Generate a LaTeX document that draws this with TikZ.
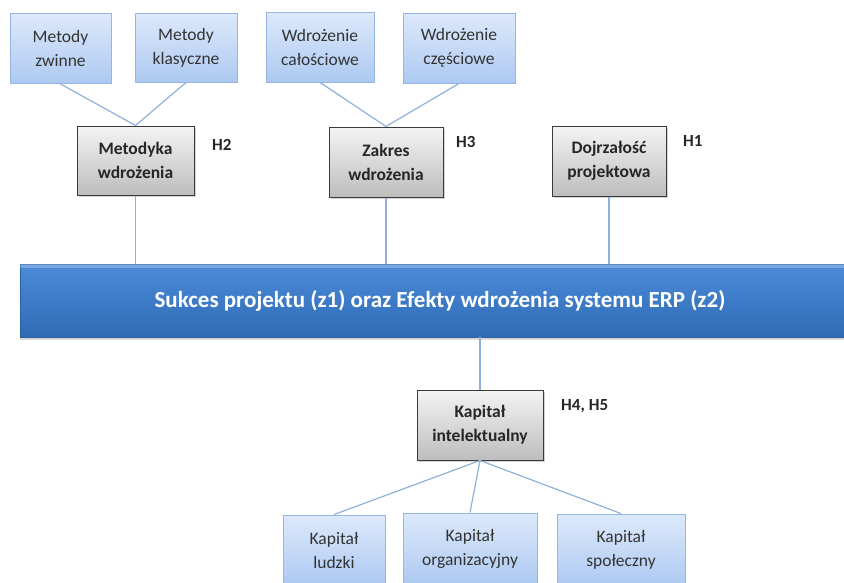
\documentclass[tikz,border=0pt]{standalone}
\usepackage{fontspec}
\setmainfont{Carlito}
\usetikzlibrary{shadows}
\definecolor{linkblue}{HTML}{8FB0D8}
\definecolor{leafedge}{HTML}{95B6E2}
\definecolor{leaftop}{HTML}{DDE9FB}
\definecolor{leafbot}{HTML}{ADC9F1}
\definecolor{hubedge}{HTML}{3A3A3A}
\definecolor{hubtop}{HTML}{F4F4F4}
\definecolor{hubbot}{HTML}{BDBDBD}
\definecolor{bantop}{HTML}{4C8BDA}
\definecolor{banbot}{HTML}{2F6BB4}
\definecolor{txtgray}{HTML}{333333}
\tikzset{
  leaf/.style={draw=leafedge, line width=0.9pt, top color=leaftop, bottom color=leafbot,
    align=center, font=\fontsize{17.5}{24}\selectfont, text=txtgray, inner sep=0pt},
  hub/.style={draw=hubedge, line width=1pt, top color=hubtop, bottom color=hubbot,
    align=center, font=\bfseries\fontsize{17.5}{24}\selectfont, text=black!85, inner sep=0pt,
    drop shadow={shadow xshift=1.5pt, shadow yshift=-1.5pt, opacity=0.35}},
  tag/.style={font=\bfseries\fontsize{17}{20}\selectfont, text=black!85, anchor=west, inner sep=0pt},
  link/.style={draw=linkblue, line width=1.2pt},
}
\begin{document}
\begin{tikzpicture}[x=1pt, y=-1pt]
\useasboundingbox (0,0) rectangle (844,582);
\clip (0,0) rectangle (844,582);

% upper leaf boxes
\node[leaf, minimum width=101pt, minimum height=70pt] (zw)  at (60.5,48.5) {Metody\\zwinne};
\node[leaf, minimum width=102pt, minimum height=69pt] (kl)  at (186,47.5) {Metody\\klasyczne};
\node[leaf, minimum width=108pt, minimum height=70pt] (wc)  at (320,47) {Wdrożenie\\całościowe};
\node[leaf, minimum width=112pt, minimum height=70pt] (wcz) at (459,48) {Wdrożenie\\częściowe};

% factor boxes
\node[hub, minimum width=117pt, minimum height=69pt] (met) at (135.5,160.5) {Metodyka\\wdrożenia};
\node[hub, minimum width=114pt, minimum height=70pt] (zak) at (386,162) {Zakres\\wdrożenia};
\node[hub, minimum width=114pt, minimum height=70pt] (doj) at (609,161) {Dojrzałość\\projektowa};

\node[tag] (h2) at (212,145) {H2};
\node[tag] (h3) at (456,142) {H3};
\node[tag] (h1) at (683,141) {H1};

% central banner
\node[draw=banbot!90!black, line width=0.6pt, top color=bantop, bottom color=banbot,
      minimum width=840pt, minimum height=73pt, inner sep=0pt,
      drop shadow={shadow xshift=0pt, shadow yshift=-3pt, opacity=0.3},
      font=\bfseries\fontsize{23}{26}\selectfont, text=white] (ban) at (440,300.5)
      {Sukces projektu (z1) oraz Efekty wdrożenia systemu ERP (z2)};
\fill[white, opacity=0.25] (ban.north west) rectangle ([yshift=-4pt]ban.north east);

% lower hub and leaves
\node[hub, minimum width=126pt, minimum height=70pt] (ki) at (480,425) {Kapitał\\intelektualny};
\node[tag] (h45) at (561,406) {H4, H5};

\node[leaf, minimum width=102pt, minimum height=70pt] (lud) at (334,550) {Kapitał\\ludzki};
\node[leaf, minimum width=134pt, minimum height=72pt] (org) at (470,549) {Kapitał\\organizacyjny};
\node[leaf, minimum width=128pt, minimum height=72pt] (spo) at (621,550) {Kapitał\\społeczny};

% connectors
\draw[link] (zw.south) -- (met.north);
\draw[link] (kl.south) -- (met.north);
\draw[link] (wc.south) -- (zak.north);
\draw[link] (wcz.south) -- (zak.north);
\draw[link] (met.south) -- (met.south |- ban.north);
\draw[link] (zak.south) -- (zak.south |- ban.north);
\draw[link] (doj.south) -- (doj.south |- ban.north);
\draw[link] (ki.north |- ban.south) -- (ki.north);
\draw[link] (ki.south) -- (lud.north);
\draw[link] (ki.south) -- (org.north);
\draw[link] (ki.south) -- (spo.north);
\end{tikzpicture}
\end{document}
